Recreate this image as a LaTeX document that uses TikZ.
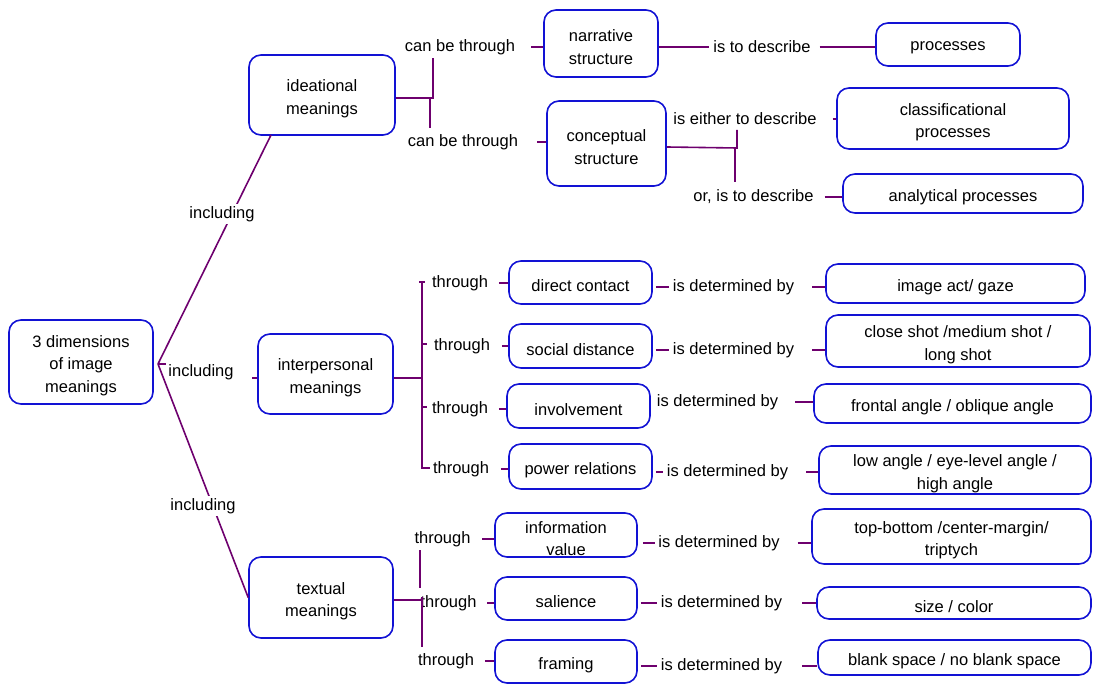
\documentclass[tikz,border=0pt]{standalone}
\usepackage{fontspec}
\setmainfont{Liberation Sans}
\begin{document}
\definecolor{boxblue}{RGB}{18,18,212}
\definecolor{linkpurple}{RGB}{110,0,110}
\begin{tikzpicture}[x=1pt,y=-1pt,
  every node/.style={font=\fontsize{16.5}{22.5}\selectfont},
  box/.style={draw=boxblue, line width=1.6pt, rounded corners=12pt, inner sep=0pt},
  boxtext/.style={align=center, inner sep=0pt, yshift=-3.5pt},
  lbl/.style={inner sep=0pt, outer sep=0pt, yshift=-2pt},
  lblw/.style={inner sep=2pt, outer sep=0pt, fill=white, yshift=-2pt},
  link/.style={draw=linkpurple, line width=1.6pt}]
\useasboundingbox (0,0) rectangle (1094,684);

% ---- concept boxes (text set as a centred label, slightly lowered) ----
\node[box, minimum width=144pt, minimum height=84pt, label={[boxtext]center:{3 dimensions\\of image\\meanings}}] (root) at (81,362) {};
\node[box, minimum width=146pt, minimum height=80pt, label={[boxtext]center:{ideational\\meanings}}] (idea) at (322,95) {};
\node[box, minimum width=135pt, minimum height=80pt, label={[boxtext]center:{interpersonal\\meanings}}] (inter) at (325.5,374) {};
\node[box, minimum width=144pt, minimum height=81pt, label={[boxtext]center:{textual\\meanings}}] (text) at (321,597.5) {};

\node[box, minimum width=114pt, minimum height=67pt, label={[boxtext]center:{narrative\\structure}}] (narr) at (601,43.5) {};
\node[box, minimum width=119pt, minimum height=85pt, label={[boxtext]center:{conceptual\\structure}}] (conc) at (606.5,143.5) {};
\node[box, minimum width=144pt, minimum height=43pt, label={[boxtext]center:{processes}}] (proc) at (948,44.5) {};
\node[box, minimum width=232pt, minimum height=61pt, label={[boxtext]center:{classificational\\processes}}] (clas) at (953,118.5) {};
\node[box, minimum width=240pt, minimum height=39pt, label={[boxtext]center:{analytical processes}}] (anal) at (963,193.5) {};

\node[box, minimum width=143pt, minimum height=43pt, label={[boxtext]center:{direct contact}}] (dire) at (580.5,282.5) {};
\node[box, minimum width=143pt, minimum height=44pt, label={[boxtext]center:{social distance}}] (soci) at (580.5,346) {};
\node[box, minimum width=143pt, minimum height=44pt, label={[boxtext]center:{involvement}}] (invo) at (578.5,406) {};
\node[box, minimum width=143pt, minimum height=45pt, label={[boxtext]center:{power relations}}] (powe) at (580.5,466.5) {};
\node[box, minimum width=259pt, minimum height=39pt, label={[boxtext]center:{image act/ gaze}}] (gaze) at (955.5,283.5) {};
\node[box, minimum width=264pt, minimum height=52pt, label={[boxtext]center:{close shot /medium shot /\\long shot}}] (shot) at (958,341) {};
\node[box, minimum width=277pt, minimum height=39pt, label={[boxtext]center:{frontal angle / oblique angle}}] (fron) at (952.5,403.5) {};
\node[box, minimum width=272pt, minimum height=48pt, label={[boxtext]center:{low angle / eye-level angle /\\high angle}}] (angl) at (955,470) {};

\node[box, minimum width=142pt, minimum height=44pt, label={[boxtext]center:{information\\value}}] (info) at (566,535) {};
\node[box, minimum width=142pt, minimum height=43pt, label={[boxtext]center:{salience}}] (sali) at (566,598.5) {};
\node[box, minimum width=142pt, minimum height=43pt, label={[boxtext]center:{framing}}] (fram) at (566,661.5) {};
\node[box, minimum width=279pt, minimum height=55pt, label={[boxtext]center:{top-bottom /center-margin/\\triptych}}] (topb) at (951.5,536.5) {};
\node[box, minimum width=274pt, minimum height=32pt, label={[boxtext]center:{size / color}}] (size) at (954,603) {};
\node[box, minimum width=273pt, minimum height=35pt, label={[boxtext]center:{blank space / no blank space}}] (blan) at (954.5,657.5) {};

% ---- root branches ----
\coordinate (j) at (158,364);
\coordinate (inpre) at (252,378);
\draw[link] (j) -- (271,135) coordinate (ideab);
\draw[link] (j) -- (text.west);
\node[lblw] (inc1) at (222,212) {including};
\node[lbl] (inc2) at (201,370) {including};
\node[lblw] (inc3) at (203,504) {including};
\draw[link] (j) -- (166,364);
\draw[link] (inpre) -- (inter.west |- inpre);

% ---- ideational ----
\node[lbl] (cbt1) at (460,45) {can be through};
\node[lbl] (cbt2) at (463,140) {can be through};
\coordinate (ib) at (433,98);
\draw[link] (idea.east |- ib) -- (ib) -- (433,58);
\draw[link] (430,98) -- (430,128);
\draw[link] ([xshift=16pt]cbt1.east) -- (cbt1.east -| narr.west);
\draw[link] ([xshift=19pt]cbt2.east) -- (cbt2.east -| conc.west);

\node[lbl] (istd) at (762,45) {is to describe};
\draw[link] (narr.east |- istd.west) -- ([xshift=-4pt]istd.west);
\draw[link] ([xshift=9pt]istd.east) -- (istd.east -| proc.west);

\node[lbl] (eith) at (745,117) {is either to describe};
\node[lbl] (ordc) at (753.5,195) {or, is to describe};
\draw[link] (conc.east |- 0,147) -- (737,148) -- (737,130);
\draw[link] (735,148) -- (735,182);
\draw[link] ([xshift=16pt]eith.east) -- (eith.east -| clas.west);
\draw[link] ([xshift=11pt]ordc.east) -- (ordc.east -| anal.west);

% ---- interpersonal ----
\node[lbl] (th1) at (460,281) {through};
\node[lbl] (th2) at (462,344) {through};
\node[lbl] (th3) at (460,407) {through};
\node[lbl] (th4) at (461,467) {through};
\draw[link] (inter.east |- 0,378) -- (422,378);
\draw[link] (419,282) -- (425,282);
\draw[link] (422,282) -- (422,468) -- (430,468);
\draw[link] (422,344) -- (427,344);
\draw[link] (422,407) -- (427,407);
\draw[link] ([xshift=11pt]th1.east) -- (th1.east -| dire.west);
\draw[link] ([xshift=12pt]th2.east) -- (th2.east -| soci.west);
\draw[link] ([xshift=11pt]th3.east) -- (th3.east -| invo.west);
\draw[link] ([xshift=12pt]th4.east) -- (th4.east -| powe.west);

\node[lbl] (dt1) at (733.5,285) {is determined by};
\node[lbl] (dt2) at (733.5,348) {is determined by};
\node[lbl] (dt3) at (717.5,400) {is determined by};
\node[lbl] (dt4) at (727.5,470) {is determined by};
\draw[link] (dt1.west -| dire.east) ++(3,0) -- ([xshift=-4pt]dt1.west);
\draw[link] (dt2.west -| soci.east) ++(3,0) -- ([xshift=-4pt]dt2.west);
\draw[link] (dt4.west -| powe.east) ++(3,0) -- ([xshift=-4pt]dt4.west);
\draw[link] ([xshift=18pt]dt1.east) -- (dt1.east -| gaze.west);
\draw[link] ([xshift=18pt]dt2.east) -- (dt2.east -| shot.west);
\draw[link] ([xshift=17pt]dt3.east) -- (dt3.east -| fron.west);
\draw[link] ([xshift=18pt]dt4.east) -- (dt4.east -| angl.west);

% ---- textual ----
\node[lbl] (tt1) at (442.5,537) {through};
\node[lbl] (tt2) at (448.5,601) {through};
\node[lbl] (tt3) at (446,659) {through};
\draw[link] (text.east |- 0,600) -- (422,600);
\draw[link] (420,550) -- (420,588);
\draw[link] (422,597) -- (422,647);
\draw[link] ([xshift=12pt]tt1.east) -- (tt1.east -| info.west);
\draw[link] ([xshift=11pt]tt2.east) -- (tt2.east -| sali.west);
\draw[link] ([xshift=11pt]tt3.east) -- (tt3.east -| fram.west);

\node[lbl] (dt5) at (719,541) {is determined by};
\node[lbl] (dt6) at (721.5,601) {is determined by};
\node[lbl] (dt7) at (721.5,664) {is determined by};
\draw[link] (dt5.west -| info.east) ++(5,0) -- ([xshift=-3pt]dt5.west);
\draw[link] (dt6.west -| sali.east) ++(3,0) -- ([xshift=-4pt]dt6.west);
\draw[link] (dt7.west -| fram.east) ++(3,0) -- ([xshift=-4pt]dt7.west);
\draw[link] ([xshift=18pt]dt5.east) -- (dt5.east -| topb.west);
\draw[link] ([xshift=20pt]dt6.east) -- (dt6.east -| size.west);
\draw[link] ([xshift=20pt]dt7.east) -- (dt7.east -| blan.west);
\end{tikzpicture}
\end{document}
